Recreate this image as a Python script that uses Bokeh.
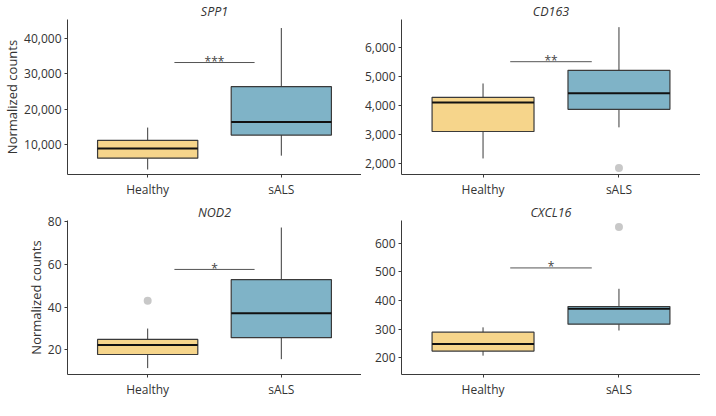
from bokeh.plotting import figure
from bokeh.layouts import gridplot
from bokeh.models import FactorRange, Range1d, NumeralTickFormatter, FixedTicker, ColumnDataSource
from bokeh.core.properties import value
from bokeh.embed import file_html
from bokeh.resources import INLINE

# ---------------- data ----------------
categories = ["Healthy", "sALS"]
genes = ["SPP1", "CD163", "NOD2", "CXCL16"]

# five-number summaries: [lower whisker, Q1, median, Q3, upper whisker]
spp1_healthy = [3100, 6300, 9000, 11300, 14900]
spp1_sals = [7000, 12800, 16500, 26400, 42900]
spp1_outliers_healthy = []
spp1_outliers_sals = []
spp1_sig = ("***", 33200)
spp1_yrange = (1700, 45300)
spp1_ticks = [10000, 20000, 30000, 40000]

cd163_healthy = [2160, 3096, 4099, 4282, 4763]
cd163_sals = [3240, 3865, 4420, 5221, 6718]
cd163_outliers_healthy = []
cd163_outliers_sals = [1827]
cd163_sig = ("**", 5519)
cd163_yrange = (1603, 6984)
cd163_ticks = [2000, 3000, 4000, 5000, 6000]

nod2_healthy = [11.3, 17.7, 22.2, 24.8, 29.9]
nod2_sals = [15.5, 25.6, 37.1, 52.9, 77.4]
nod2_outliers_healthy = [43.0]
nod2_outliers_sals = []
nod2_sig = ("*", 57.7)
nod2_yrange = (8.3, 80.7)
nod2_ticks = [20, 40, 60, 80]

cxcl16_healthy = [207, 223, 248, 289, 306]
cxcl16_sals = [295, 317, 371, 379, 441]
cxcl16_outliers_healthy = []
cxcl16_outliers_sals = [657]
cxcl16_sig = ("*", 514)
cxcl16_yrange = (141, 680)
cxcl16_ticks = [200, 300, 400, 500, 600]

box_colors = ["#F6D58B", "#7FB3C7"]

FONT = "Open Sans"
TEXT = "#333333"
LINE = "#3a3a3a"


def make_panel(title, healthy, sals, out_h, out_s, sig, yrange, ticks,
               width, height, left, top, bottom, ylabel):
    p = figure(width=width, height=height, output_backend="svg", toolbar_location=None,
               x_range=FactorRange(*categories, range_padding=0.1, range_padding_units="absolute"),
               y_range=Range1d(*yrange),
               min_border_left=left, min_border_right=0,
               min_border_top=top, min_border_bottom=bottom,
               title=title)
    p.title.text_font = FONT
    p.title.text_font_style = "italic"
    p.title.text_font_size = "12.5px"
    p.title.text_color = TEXT
    p.title.align = "center"
    p.title.standoff = 0
    p.title.offset = 0

    stats = [healthy, sals]
    src = ColumnDataSource(dict(
        x=categories,
        lo=[s[0] for s in stats], q1=[s[1] for s in stats], med=[s[2] for s in stats],
        q3=[s[3] for s in stats], hi=[s[4] for s in stats],
        xl=[(c, -0.375) for c in categories], xr=[(c, 0.375) for c in categories],
        color=box_colors,
    ))
    # whiskers
    p.segment(x0="x", x1="x", y0="q3", y1="hi", source=src, line_color=LINE, line_width=1)
    p.segment(x0="x", x1="x", y0="lo", y1="q1", source=src, line_color=LINE, line_width=1)
    # boxes
    p.vbar(x="x", width=0.75, bottom="q1", top="q3", source=src, fill_color="color",
           line_color=LINE, line_width=1.2)
    # medians
    p.segment(x0="xl", x1="xr", y0="med", y1="med", source=src, line_color="#111111", line_width=2)

    # outliers
    ox = ["Healthy"] * len(out_h) + ["sALS"] * len(out_s)
    oy = list(out_h) + list(out_s)
    if oy:
        p.scatter(x=ox, y=oy, size=8, fill_color="#c8c8c8", line_color=None)

    # significance
    p.segment(x0=[("Healthy", 0.2)], x1=[("sALS", -0.2)], y0=[sig[1]], y1=[sig[1]],
              line_color="#555555", line_width=1)
    p.text(x=[("Healthy", 0.5)], y=[sig[1]], text=[sig[0]], text_align="center",
           text_baseline="alphabetic", text_font=value(FONT), text_font_size="12px",
           text_color="#444444", y_offset=-1)

    p.grid.visible = False
    p.outline_line_color = None
    p.background_fill_color = "white"
    p.border_fill_color = "white"

    for ax in (p.xaxis, p.yaxis):
        ax.axis_line_color = LINE
        ax.axis_line_width = 1
        ax.major_tick_line_color = LINE
        ax.major_tick_out = 3
        ax.major_tick_in = 0
        ax.minor_tick_line_color = None
        ax.major_label_text_font = FONT
        ax.major_label_text_font_size = "12px"
        ax.major_label_text_color = TEXT
        ax.major_label_standoff = 3
    p.yaxis.ticker = FixedTicker(ticks=ticks)
    p.yaxis.formatter = NumeralTickFormatter(format="0,0")
    if ylabel:
        p.yaxis.axis_label = ylabel
        p.yaxis.axis_label_text_font = FONT
        p.yaxis.axis_label_text_font_size = "13px"
        p.yaxis.axis_label_text_font_style = "normal"
        p.yaxis.axis_label_text_color = TEXT
        p.yaxis.axis_label_standoff = 0
    return p


p1 = make_panel(genes[0], spp1_healthy, spp1_sals, spp1_outliers_healthy, spp1_outliers_sals,
                spp1_sig, spp1_yrange, spp1_ticks, 361, 200, 60, 14, 25, "Normalized counts")
p2 = make_panel(genes[1], cd163_healthy, cd163_sals, cd163_outliers_healthy, cd163_outliers_sals,
                cd163_sig, cd163_yrange, cd163_ticks, 339, 200, 37, 14, 25, None)
p3 = make_panel(genes[2], nod2_healthy, nod2_sals, nod2_outliers_healthy, nod2_outliers_sals,
                nod2_sig, nod2_yrange, nod2_ticks, 361, 200, 60, 20, 18, "Normalized counts")
p4 = make_panel(genes[3], cxcl16_healthy, cxcl16_sals, cxcl16_outliers_healthy, cxcl16_outliers_sals,
                cxcl16_sig, cxcl16_yrange, cxcl16_ticks, 339, 200, 37, 20, 18, None)

layout = gridplot([[p1, p2], [p3, p4]], toolbar_location=None)

open("out.html", "w").write(file_html(layout, INLINE))
